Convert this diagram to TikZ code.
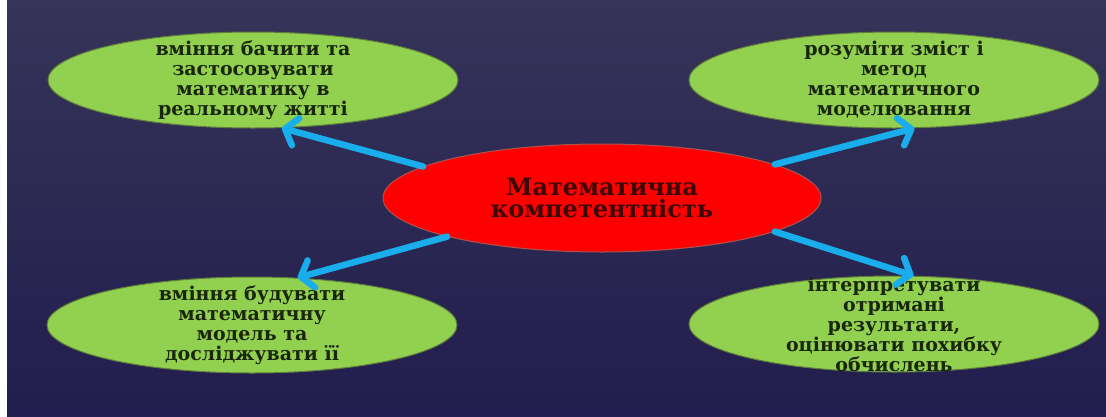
\documentclass[tikz,border=0pt]{standalone}
\usepackage{fontspec}
\setmainfont{DejaVu Serif}
\usetikzlibrary{arrows.meta,shapes.geometric}
\definecolor{slidetop}{RGB}{54,52,88}
\definecolor{slidebot}{RGB}{33,29,78}
\definecolor{leaf}{HTML}{92D050}
\definecolor{leafrim}{RGB}{95,125,60}
\definecolor{corefill}{HTML}{FF0000}
\definecolor{corerim}{RGB}{170,85,80}
\definecolor{linkblue}{HTML}{19AEEB}
\definecolor{leaftext}{RGB}{25,38,12}
\definecolor{coretext}{RGB}{60,8,8}

\begin{document}
\begin{tikzpicture}[x=1pt, y=-1pt,
	leafnode/.style={ellipse, fill=leaf, draw=leafrim, line width=1pt, minimum width=410pt, minimum height=96pt, inner xsep=0pt, inner ysep=-10pt, align=center, text=leaftext, font=\bfseries\fontsize{19}{20}\selectfont},
	corenode/.style={ellipse, fill=corefill, draw=corerim, line width=1pt, minimum width=438pt, minimum height=108pt, inner sep=0pt, align=center, text=coretext, font=\bfseries\fontsize{24}{22}\selectfont},
	link/.style={draw=linkblue, line width=6.5pt, line cap=round, -{Straight Barb[length=11pt,width=28pt,round]}}]
	\useasboundingbox (0,0) rectangle (1106,416);
	\fill[white] (0,0) rectangle (1106,416);
	\shade[top color=slidetop, bottom color=slidebot] (7,0) rectangle (1106,416);
	\node[corenode] (core) at (602,198) {Математична\\ компетентність};
	\node[leafnode] (see) at (253,80) {вміння бачити та\\ застосовувати\\ математику в\\ реальному житті};
	\node[leafnode] (method) at (894,80) {розуміти зміст і\\ метод\\ математичного\\ моделювання};
	\node[leafnode] (build) at (252,325) {вміння будувати\\ математичну\\ модель та\\ досліджувати її};
	\node[leafnode, inner ysep=-20pt] (interp) at (894,324) {інтерпретувати\\ отримані\\ результати,\\ оцінювати похибку\\ обчислень};
	\draw[link] (core.170) -- (see.-59);
	\draw[link] (core.11) -- (method.-67);
	\draw[link] (core.194) -- (build.46);
	\draw[link] (core.-11) -- (interp.68);
\end{tikzpicture}
\end{document}
